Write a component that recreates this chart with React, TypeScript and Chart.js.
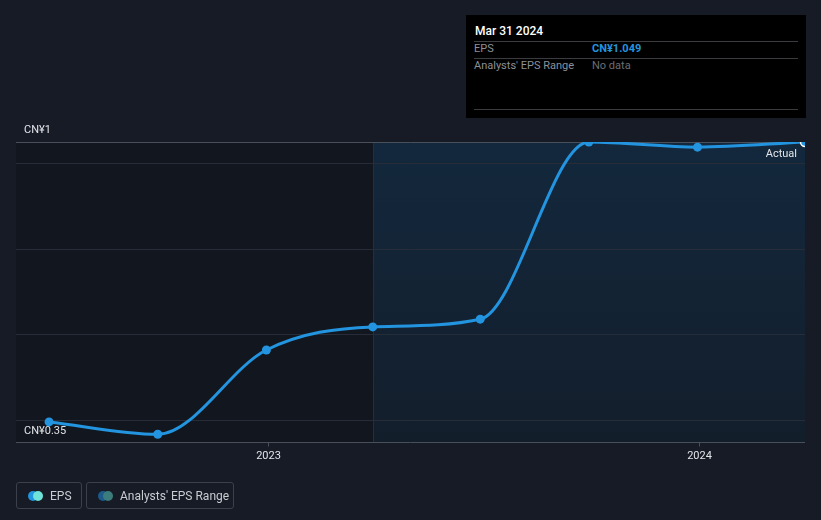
import React, { useEffect, useRef } from "react";
import { Chart, registerables } from "chart.js";

Chart.register(...registerables);

// ---- data ----
const dates = ["2022-06-30", "2022-09-30", "2022-12-31", "2023-03-31", "2023-06-30", "2023-09-30", "2023-12-31", "2024-03-31"];
const eps = [0.395, 0.366, 0.563, 0.617, 0.635, 1.049, 1.037, 1.049];
const yearTicks = [2023, 2024];
const gridValues = [0.4, 0.6, 0.8, 1.0];
const yMin = 0.348;
const yMax = 1.049;
const xStart = "2022-06-02";
const actualStart = "2023-03-31";
const yTopLabel = "CN¥1";
const yBottomLabel = "CN¥0.35";

const toMs = (d: string) => Date.parse(d + "T00:00:00Z");

const BG = "#161b26";
const LINE = "#2394df";
const FONT = "Roboto, 'Noto Sans', sans-serif";

export default function App() {
  const ref = useRef<HTMLCanvasElement | null>(null);

  useEffect(() => {
    const canvas = ref.current;
    if (!canvas) return;

    const decor = {
      id: "decor",
      beforeDatasetsDraw(chart: any) {
        const { ctx, chartArea, scales } = chart;
        const x = scales.x;
        const y = scales.y;
        const L = chartArea.left;
        const R = chartArea.right;
        const T = y.getPixelForValue(yMax);
        const B = y.getPixelForValue(yMin);
        const xa = Math.round(x.getPixelForValue(toMs(actualStart))) + 0.5;
        ctx.save();
        // left (past) region
        ctx.fillStyle = "#12171f";
        ctx.fillRect(L, T, xa - L, B - T);
        // actual region gradient
        const g = ctx.createLinearGradient(0, T, 0, B);
        g.addColorStop(0, "#13283d");
        g.addColorStop(1, "#131e2b");
        ctx.fillStyle = g;
        ctx.fillRect(xa, T, R - xa, B - T);
        // grid
        ctx.lineWidth = 1;
        ctx.strokeStyle = "#262d38";
        for (const v of gridValues) {
          const py = Math.round(y.getPixelForValue(v)) + 0.5;
          ctx.beginPath();
          ctx.moveTo(L, py);
          ctx.lineTo(R, py);
          ctx.stroke();
        }
        // vertical divider
        ctx.strokeStyle = "#1f3043";
        ctx.beginPath();
        ctx.moveTo(xa, T);
        ctx.lineTo(xa, B);
        ctx.stroke();
        // top & bottom lines
        ctx.strokeStyle = "#4a505a";
        const ty = Math.round(T) + 0.5;
        const by = Math.round(B) + 0.5;
        ctx.beginPath();
        ctx.moveTo(L, ty);
        ctx.lineTo(R, ty);
        ctx.moveTo(L, by);
        ctx.lineTo(R, by);
        ctx.stroke();
        // year ticks
        ctx.font = `11px ${FONT}`;
        ctx.fillStyle = "#e2e4e8";
        ctx.textAlign = "center";
        ctx.textBaseline = "middle";
        for (const yr of yearTicks) {
          const px = Math.round(x.getPixelForValue(toMs(`${yr}-01-01`))) + 0.5;
          ctx.beginPath();
          ctx.moveTo(px, by);
          ctx.lineTo(px, by + 4);
          ctx.stroke();
          ctx.fillText(String(yr), px, by + 14);
        }
        // y labels
        ctx.textAlign = "left";
        ctx.fillText(yTopLabel, L + 8, ty - 12);
        ctx.fillText(yBottomLabel, L + 8, by - 11);
        // Actual label
        ctx.textAlign = "right";
        ctx.fillText("Actual", R - 8, ty + 12);
        ctx.restore();
      },
    };

    const last = dates.length - 1;
    const chart = new Chart(canvas, {
      type: "line",
      data: {
        datasets: [
          {
            label: "EPS",
            data: dates.map((d, i) => ({ x: toMs(d), y: eps[i] })),
            borderColor: LINE,
            backgroundColor: LINE,
            borderWidth: 3,
            cubicInterpolationMode: "monotone",
            pointRadius: dates.map((_, i) => (i === last ? 4.5 : 4.5)),
            pointBackgroundColor: LINE,
            pointBorderColor: dates.map((_, i) => (i === last ? "#ffffff" : LINE)),
            pointBorderWidth: dates.map((_, i) => (i === last ? 1.5 : 0)),
            fill: false,
          },
        ],
      },
      options: {
        responsive: false,
        animation: false,
        layout: { padding: { left: 16, right: 16, top: 142, bottom: 78 } },
        scales: {
          x: {
            type: "linear",
            display: false,
            min: toMs(xStart),
            max: toMs(dates[last]),
          },
          y: { type: "linear", display: false, min: yMin, max: yMax },
        },
        plugins: { legend: { display: false }, tooltip: { enabled: false } },
      },
      plugins: [decor],
    } as any);
    return () => chart.destroy();
  }, []);

  const rowLine: React.CSSProperties = { position: "absolute", left: 8, right: 8, height: 1, background: "#3a3c40" };
  const txt: React.CSSProperties = { position: "absolute", fontFamily: FONT, fontSize: 11, whiteSpace: "nowrap", lineHeight: "14px" };

  const legendBox: React.CSSProperties = {
    position: "absolute",
    top: 482,
    height: 27,
    boxSizing: "border-box",
    border: "1px solid #3b404b",
    borderRadius: 3,
  };
  const dot = (left: number, color: string): React.CSSProperties => ({
    position: "absolute",
    left,
    top: 7.5,
    width: 10,
    height: 10,
    borderRadius: 5,
    background: color,
  });

  return (
    <div style={{ position: "fixed", left: 0, top: 0, width: 821, height: 520, background: BG, overflow: "hidden" }}>
      <canvas ref={ref} width={821} height={520} style={{ position: "absolute", left: 0, top: 0 }} />
      {/* tooltip */}
      <div style={{ position: "absolute", left: 466, top: 15, width: 340, height: 103, background: "#000" }}>
        <div style={{ ...txt, left: 9, top: 9, color: "#ffffff", fontSize: 12, fontWeight: 500 }}>Mar 31 2024</div>
        <div style={{ ...rowLine, top: 26 }} />
        <div style={{ ...txt, left: 8, top: 27, color: "#8c9097" }}>EPS</div>
        <div style={{ ...txt, left: 126, top: 27, color: "#2394df", fontWeight: 700 }}>CN¥1.049</div>
        <div style={{ ...rowLine, top: 43 }} />
        <div style={{ ...txt, left: 8, top: 44, color: "#8c9097" }}>Analysts' EPS Range</div>
        <div style={{ ...txt, left: 126, top: 44, color: "#6b6e73" }}>No data</div>
        <div style={{ ...rowLine, top: 94 }} />
      </div>
      {/* legend */}
      <div style={{ ...legendBox, left: 16, width: 66 }}>
        <div style={dot(11, "#2394df")} />
        <div style={dot(16, "#6fe3d8")} />
        <div style={{ ...txt, left: 33, top: 6, fontSize: 12, color: "#c9ccd1" }}>EPS</div>
      </div>
      <div style={{ ...legendBox, left: 86, width: 148 }}>
        <div style={dot(11, "#1d5a8c")} />
        <div style={dot(16, "#3d7c7c")} />
        <div style={{ ...txt, left: 33, top: 6, fontSize: 12, color: "#c9ccd1" }}>Analysts' EPS Range</div>
      </div>
    </div>
  );
}
